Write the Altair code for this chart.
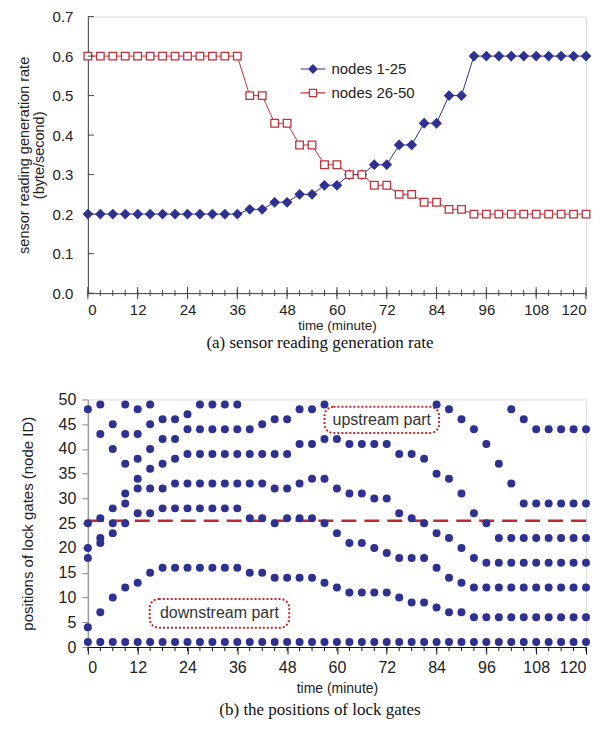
import altair as alt
import pandas as pd

# ---------------- data ----------------
times = [0, 3, 6, 9, 12, 15, 18, 21, 24, 27, 30, 33, 36, 39, 42, 45, 48, 51, 54, 57,
         60, 63, 66, 69, 72, 75, 78, 81, 84, 87, 90, 93, 96, 99, 102, 105, 108, 111,
         114, 117, 120]

rate_nodes_1_25 = [0.2, 0.2, 0.2, 0.2, 0.2, 0.2, 0.2, 0.2, 0.2, 0.2, 0.2, 0.2, 0.2,
                   0.212, 0.212, 0.23, 0.23, 0.25, 0.25, 0.273, 0.273, 0.30, 0.30,
                   0.325, 0.325, 0.375, 0.375, 0.43, 0.43, 0.5, 0.5,
                   0.6, 0.6, 0.6, 0.6, 0.6, 0.6, 0.6, 0.6, 0.6, 0.6]
rate_nodes_26_50 = [0.6, 0.6, 0.6, 0.6, 0.6, 0.6, 0.6, 0.6, 0.6, 0.6, 0.6, 0.6, 0.6,
                    0.5, 0.5, 0.43, 0.43, 0.375, 0.375, 0.325, 0.325, 0.30, 0.30,
                    0.273, 0.273, 0.25, 0.25, 0.23, 0.23, 0.212, 0.212,
                    0.2, 0.2, 0.2, 0.2, 0.2, 0.2, 0.2, 0.2, 0.2, 0.2]
series_names = ["nodes 1-25", "nodes 26-50"]

rate_ticks = [0.0, 0.1, 0.2, 0.3, 0.4, 0.5, 0.6, 0.7]
time_ticks = [0, 12, 24, 36, 48, 60, 72, 84, 96, 108, 120]
node_ticks = [0, 5, 10, 15, 20, 25, 30, 35, 40, 45, 50]

# lock gate positions (node IDs) at each time step
gate_nodes = [
    [48, 25, 20, 18, 4, 1],
    [49, 43, 26, 22, 21, 7, 1],
    [45, 40, 28, 25, 23, 10, 1],
    [49, 43, 37, 31, 29, 25, 12, 1],
    [48, 43, 38, 34, 32, 27, 13, 1],
    [49, 45, 40, 36, 32, 27, 15, 1],
    [46, 42, 37, 32, 28, 16, 1],
    [46, 42, 38, 33, 28, 16, 1],
    [47, 44, 39, 33, 28, 16, 1],
    [49, 44, 39, 33, 28, 16, 1],
    [49, 44, 39, 33, 28, 16, 1],
    [49, 44, 39, 33, 28, 16, 1],
    [49, 44, 39, 33, 28, 16, 1],
    [44, 39, 33, 26, 15, 1],
    [45, 39, 33, 26, 15, 1],
    [46, 39, 32, 25, 14, 1],
    [46, 39, 32, 26, 14, 1],
    [48, 41, 33, 26, 14, 1],
    [48, 41, 34, 26, 14, 1],
    [49, 42, 34, 25, 13, 1],
    [42, 32, 23, 12, 1],
    [41, 31, 21, 11, 1],
    [41, 31, 21, 11, 1],
    [41, 30, 20, 11, 1],
    [41, 30, 19, 11, 1],
    [39, 27, 18, 10, 1],
    [39, 26, 18, 9, 1],
    [38, 25, 18, 9, 1],
    [49, 35, 23, 16, 8, 1],
    [48, 34, 22, 14, 7, 1],
    [46, 31, 20, 13, 7, 1],
    [44, 27, 18, 12, 6, 1],
    [41, 25, 17, 12, 6, 1],
    [37, 22, 17, 12, 6, 1],
    [48, 33, 22, 17, 12, 6, 1],
    [46, 29, 22, 17, 12, 6, 1],
    [44, 29, 22, 17, 12, 6, 1],
    [44, 29, 22, 17, 12, 6, 1],
    [44, 29, 22, 17, 12, 6, 1],
    [44, 29, 22, 17, 12, 6, 1],
    [44, 29, 22, 17, 12, 6, 1],
]
boundary_node = 25.5

annot_text = ["upstream part", "downstream part"]
annot_x1 = [57.0, 14.9]
annot_x2 = [84.6, 48.5]
annot_y1 = [43.2, 3.9]
annot_y2 = [48.5, 9.7]

# ---------------- styling ----------------
BLUE = "#2E3192"
RED = "#C0313A"
DASH_RED = "#BE2A30"
FONT = "Liberation Sans"
SERIF = "Liberation Serif"
W = 499
H1 = 277
H2 = 248

rate_df = pd.DataFrame({
    "time": times + times,
    "rate": rate_nodes_1_25 + rate_nodes_26_50,
    "series": [series_names[0]] * len(times) + [series_names[1]] * len(times),
})
gate_df = pd.DataFrame(
    [{"time": t, "node": n} for t, ns in zip(times, gate_nodes) for n in ns]
)
time_df = pd.DataFrame({"time": times})
major_df = pd.DataFrame({"time": time_ticks})
rate_tick_df = pd.DataFrame({"rate": rate_ticks})
annot_df = pd.DataFrame({"text": annot_text, "time": annot_x1, "time2": annot_x2,
                         "node": annot_y1, "node2": annot_y2})
annot_df["time_mid"] = (annot_df["time"] + annot_df["time2"]) / 2
annot_df["node_mid"] = (annot_df["node"] + annot_df["node2"]) / 2

# ---------------- shared scales / axes ----------------
time_scale = alt.Scale(domain=[0, 120], nice=False)
rate_scale = alt.Scale(domain=[0, 0.7], nice=False)
node_scale = alt.Scale(domain=[0, 50], nice=False)

x_top_axis = alt.Axis(values=time_ticks, ticks=False, grid=False, labelOverlap=False,
                      labelFont=FONT, labelFontSize=15, labelColor="#222",
                      labelPadding=9, domainColor="#444",
                      title="time (minute)", titleFont=FONT,
                      titleFontSize=13.5, titleFontWeight="normal",
                      titleColor="#222", titlePadding=1)
y_top_axis = alt.Axis(values=rate_ticks, format=".1f", ticks=False, grid=False,
                      labelOverlap=False, labelFont=FONT, labelFontSize=15,
                      labelColor="#222", labelPadding=15, domainColor="#444",
                      title=["sensor reading generation rate", "(byte/second)"],
                      titleFont=FONT, titleFontSize=14.5, titleFontWeight="normal",
                      titleColor="#222", titlePadding=5.5, titleLineHeight=15)
x_bot_axis = alt.Axis(values=time_ticks, tickSize=7, tickColor="#111", grid=False,
                      labelOverlap=False, labelFont=FONT, labelFontSize=16,
                      labelColor="#222", labelPadding=6, domainColor="#111",
                      title="time (minute)", titleFont=FONT,
                      titleFontSize=14, titleFontWeight="normal",
                      titleColor="#222", titlePadding=6)
y_bot_axis = alt.Axis(values=node_ticks, tickSize=6, tickColor="#888", grid=False,
                      labelOverlap=False, labelFont=FONT, labelFontSize=16,
                      labelColor="#222", labelPadding=6, domainColor="#999",
                      domainWidth=1.5, title="positions of lock gates (node ID)",
                      titleFont=FONT, titleFontSize=15, titleFontWeight="normal",
                      titleColor="#222", titlePadding=23)


def xt(field="time"):
    return alt.X(f"{field}:Q", scale=time_scale, axis=x_top_axis)


def yt(field="rate"):
    return alt.Y(f"{field}:Q", scale=rate_scale, axis=y_top_axis)


def xb(field="time"):
    return alt.X(f"{field}:Q", scale=time_scale, axis=x_bot_axis)


def yb(field="node"):
    return alt.Y(f"{field}:Q", scale=node_scale, axis=y_bot_axis)


# ---------------- top chart ----------------
top_line = alt.Chart(rate_df).mark_line(strokeWidth=1).encode(
    x=xt(), y=yt(),
    color=alt.Color("series:N", scale=alt.Scale(domain=series_names, range=[BLUE, RED]),
                    legend=None),
)
top_pts = alt.Chart(rate_df).mark_point(strokeWidth=1.3, opacity=1).encode(
    x=xt(), y=yt(),
    shape=alt.Shape("series:N", scale=alt.Scale(domain=series_names, range=["diamond", "square"]),
                    legend=None),
    size=alt.Size("series:N", scale=alt.Scale(domain=series_names, range=[80, 58]),
                  legend=None),
    fill=alt.Fill("series:N", scale=alt.Scale(domain=series_names, range=[BLUE, "white"]),
                  legend=None),
    stroke=alt.Stroke("series:N", scale=alt.Scale(domain=series_names, range=[BLUE, RED]),
                      legend=None),
)
legend_paths = [
    "M-1,0H-0.33M0.33,0H1M-0.33,0L0,-0.33L0.33,0L0,0.33Z",
    "M-1,0H-0.29M0.29,0H1M-0.29,-0.29H0.29V0.29H-0.29Z",
]
top_legend = alt.Chart(rate_df).mark_point(opacity=1).encode(
    x=xt(), y=yt(),
    shape=alt.Shape("series:N", scale=alt.Scale(domain=series_names, range=legend_paths),
                    legend=alt.Legend(title=None, orient="none", legendX=212, legendY=39,
                                      symbolSize=625, symbolStrokeWidth=1.2,
                                      symbolOpacity=1, labelFont=FONT, labelFontSize=15,
                                      labelColor="#222", labelOffset=5, rowPadding=2,
                                      padding=0)),
    fill=alt.Fill("series:N", scale=alt.Scale(domain=series_names, range=[BLUE, "white"])),
    stroke=alt.Stroke("series:N", scale=alt.Scale(domain=series_names, range=[BLUE, RED])),
).transform_filter("false")

top_minor = alt.Chart(time_df).mark_rule(color="#444", strokeWidth=1).encode(
    x=xt(), y=alt.value(H1 - 3), y2=alt.value(H1 + 3))
top_major = alt.Chart(major_df).mark_rule(color="#444", strokeWidth=1).encode(
    x=xt(), y=alt.value(H1 - 6), y2=alt.value(H1 + 6))
top_yticks = alt.Chart(rate_tick_df).mark_rule(color="#444", strokeWidth=1).encode(
    y=yt(), x=alt.value(0), x2=alt.value(6))

top = alt.layer(top_line, top_pts, top_legend, top_minor, top_major, top_yticks).resolve_scale(
    color="independent", shape="independent", fill="independent", stroke="independent",
    size="independent"
).properties(
    width=W, height=H1,
    title=alt.TitleParams("(a) sensor reading generation rate", orient="bottom",
                          font=SERIF, fontSize=17, fontWeight="normal", color="#111",
                          anchor="middle", frame="group", dx=-17, offset=3),
)

# ---------------- bottom chart ----------------
gates = alt.Chart(gate_df).mark_circle(size=64, color=BLUE, opacity=1).encode(
    x=xb(), y=yb())
bot_minor = alt.Chart(time_df).mark_rule(color="#111", strokeWidth=1).encode(
    x=xb(), y=alt.value(H2), y2=alt.value(H2 + 4))
boxes = alt.Chart(annot_df).mark_rect(
    fill="white", stroke=DASH_RED, strokeWidth=2, strokeDash=[2, 2], cornerRadius=9
).encode(x=xb(), x2="time2:Q", y=yb(), y2="node2:Q")
box_text = alt.Chart(annot_df).mark_text(
    font=FONT, fontSize=16, color="#333", baseline="middle", align="center"
).encode(x=xb("time_mid"), y=yb("node_mid"), text="text:N")
boundary = alt.Chart(pd.DataFrame({"node": [boundary_node]})).mark_rule(
    color=DASH_RED, strokeWidth=2.5, strokeDash=[15, 8]
).encode(y=yb())

bottom = alt.layer(bot_minor, boxes, box_text, boundary, gates).properties(
    width=W, height=H2,
    title=alt.TitleParams("(b) the positions of lock gates", orient="bottom",
                          font=SERIF, fontSize=17, fontWeight="normal", color="#111",
                          anchor="middle", frame="group", dx=-17, offset=6),
)

chart = alt.vconcat(top, bottom, spacing=39.5).configure_view(stroke=None).configure(
    background="white", padding={"left": 8, "top": 0, "right": 0, "bottom": 0}
)

chart.save("out.html", embed_options={"renderer": "svg", "actions": False})
